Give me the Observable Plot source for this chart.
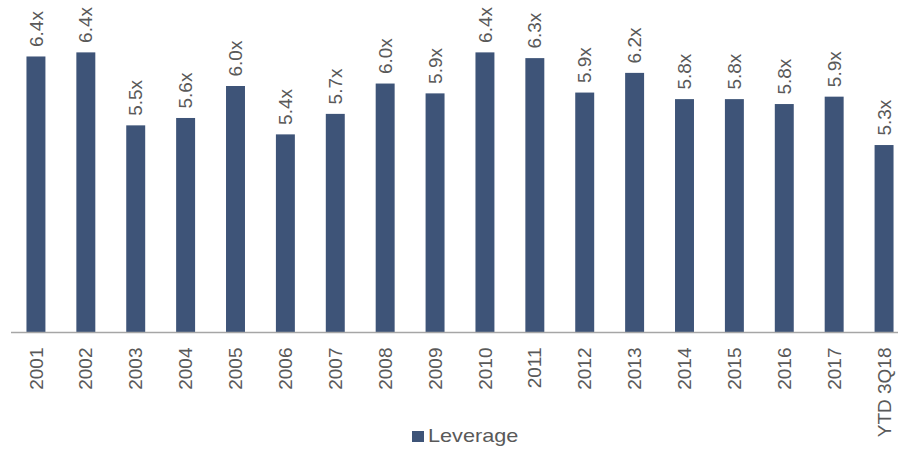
<!DOCTYPE html>
<html>
<head>
<meta charset="utf-8">
<script src="https://cdn.jsdelivr.net/npm/d3@7"></script>
<script src="https://cdn.jsdelivr.net/npm/@observablehq/plot@0.6"></script>
<style>
  body { margin: 0; background: #fff; font-family: "Liberation Sans", Arial, sans-serif; }
  #wrap { position: relative; width: 898px; height: 450px; overflow: hidden; }
  #legend { position: absolute; left: 412px; top: 425px; display: flex; align-items: center; color: #595959; font-size: 19px; line-height: 22px; }
  #legend .sw { width: 12px; height: 11px; background: #3e5478; margin-right: 4px; }
  #legend span { display: inline-block; transform: scaleX(1.14); transform-origin: left center; }
</style>
</head>
<body>
<div id="wrap">
  <div id="chart"></div>
  <div id="legend"><div class="sw"></div><span>Leverage</span></div>
</div>
<script>
const categories = ["2001","2002","2003","2004","2005","2006","2007","2008","2009","2010","2011","2012","2013","2014","2015","2016","2017","YTD 3Q18"];
const leverage = [6.36, 6.41, 5.52, 5.61, 6.00, 5.41, 5.66, 6.03, 5.91, 6.41, 6.34, 5.92, 6.16, 5.84, 5.84, 5.78, 5.87, 5.28];
const seriesName = "Leverage";

const data = categories.map((c, i) => ({category: c, value: leverage[i]}));
const barColor = "#3e5478";
const textColor = "#595959";

const chart = Plot.plot({
  width: 898,
  height: 450,
  marginTop: 4,
  marginBottom: 118,
  marginLeft: 11,
  marginRight: 0,
  style: {fontFamily: "'Liberation Sans', Arial, sans-serif", color: textColor, background: "#fff"},
  x: {domain: categories, range: [11, 909], paddingInner: 0.62, paddingOuter: 0.31, round: false, label: null},
  y: {domain: [3, 7], axis: null},
  marks: [
    Plot.barY(data, {x: "category", y1: 3, y2: "value", fill: barColor}),
    Plot.ruleY([3], {stroke: "#a6a6a6", strokeWidth: 1.5}),
    Plot.text(data, {x: "category", y: "value", text: d => d.value.toFixed(1) + "x", rotate: -90, textAnchor: "start", dy: -10, fontSize: 19, fill: textColor}),
    Plot.axisX({tickRotate: -90, tickSize: 0, tickPadding: 15, fontSize: 19, label: null})
  ]
});
document.getElementById("chart").appendChild(chart);
</script>
</body>
</html>
